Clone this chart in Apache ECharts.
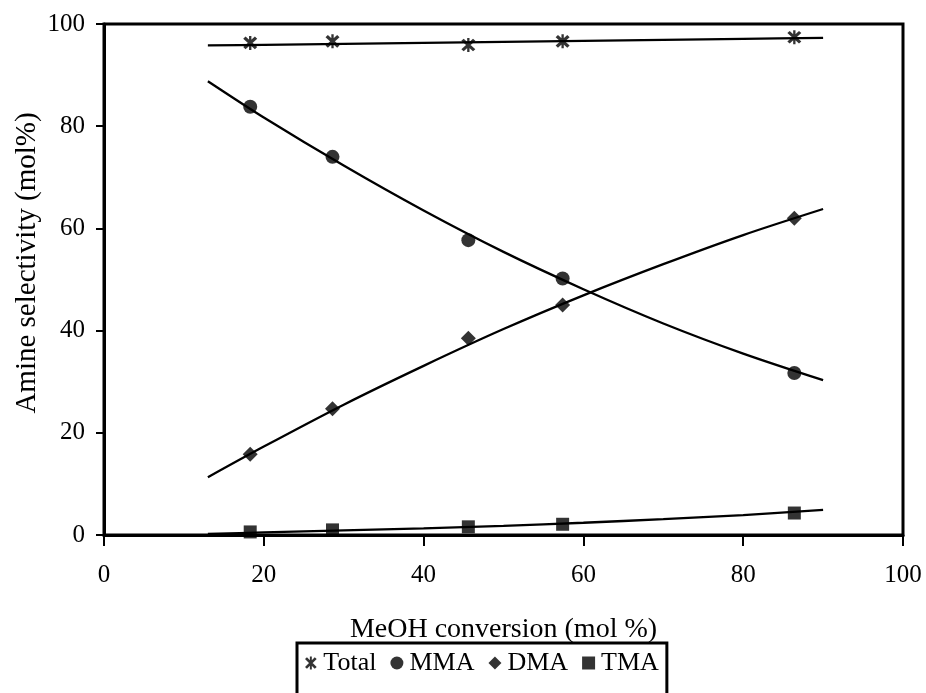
<!DOCTYPE html>
<html>
<head>
<meta charset="utf-8">
<script src="https://cdn.jsdelivr.net/npm/echarts@6/dist/echarts.min.js"></script>
<style>html,body{margin:0;padding:0;background:#fff}#c{width:926px;height:693px}</style>
</head>
<body>
<div id="c"></div>
<script>
// Measured points
const conversion = [18.3, 28.6, 45.6, 57.4, 86.4];
const totalSel = [96.3, 96.6, 95.9, 96.6, 97.4];
const mmaSel = [83.8, 74.0, 57.7, 50.2, 31.7];
const dmaSel = [15.8, 24.7, 38.5, 45.0, 62.0];
const tmaSel = [0.6, 1.0, 1.6, 2.1, 4.3];

// Trend lines
const fitX = [13, 20, 30, 40, 50, 60, 70, 80, 90];
const totalFit = [95.8, 95.9, 96.1, 96.3, 96.5, 96.7, 96.9, 97.1, 97.3];
const mmaFit = [88.8, 81.7, 72.3, 63.5, 55.4, 48.1, 41.4, 35.5, 30.3];
const dmaFit = [11.3, 17.3, 25.5, 33.1, 40.3, 46.9, 53.0, 58.7, 63.8];
const tmaFit = [0.2, 0.5, 0.9, 1.3, 1.8, 2.4, 3.1, 3.9, 4.9];

const xTicks = [0, 20, 40, 60, 80, 100];
const yTicks = [0, 20, 40, 60, 80, 100];

const FONT = 'Liberation Serif';
const starPath = 'path://M8.5,0L11.5,0L11.5,20L8.5,20Z M1,4L4,1L19,16L16,19Z M16,1L19,4L4,19L1,16Z';

const pairs = (xs, ys) => xs.map((x, i) => [x, ys[i]]);

function scatter(name, ys, symbol, size) {
  return {
    name, type: 'scatter', data: pairs(conversion, ys), symbol, symbolSize: size,
    itemStyle: { color: '#000' }, z: 3
  };
}
function fit(name, ys) {
  return {
    name, type: 'line', data: pairs(fitX, ys), smooth: 0.3, showSymbol: false, symbol: 'none',
    lineStyle: { color: '#000', width: 2.3 }, z: 2, silent: true
  };
}

const chart = echarts.init(document.getElementById('c'), null, { renderer: 'canvas' });
chart.setOption({
  animation: false,
  backgroundColor: '#fff',
  grid: { left: 104, right: 23, top: 24, bottom: 158, show: true, borderColor: '#000', borderWidth: 3 },
  xAxis: {
    type: 'value', min: xTicks[0], max: xTicks[xTicks.length - 1], interval: 20,
    name: 'MeOH conversion (mol %)', nameLocation: 'middle', nameGap: 81,
    nameTextStyle: { fontFamily: FONT, fontSize: 28, color: '#000' },
    axisLine: { show: true, lineStyle: { color: '#000', width: 3 } },
    axisTick: { show: true, inside: false, length: 11, lineStyle: { color: '#000', width: 2 } },
    axisLabel: { fontFamily: FONT, fontSize: 25, color: '#000', margin: 28 },
    splitLine: { show: false }
  },
  yAxis: {
    type: 'value', min: yTicks[0], max: yTicks[yTicks.length - 1], interval: 20,
    axisLine: { show: true, lineStyle: { color: '#000', width: 3 } },
    axisTick: { show: true, inside: false, length: 8, lineStyle: { color: '#000', width: 2 } },
    axisLabel: { fontFamily: FONT, fontSize: 25, color: '#000', margin: 19 },
    splitLine: { show: false }
  },
  legend: {
    data: ['Total', 'MMA', 'DMA', 'TMA'],
    left: 297, top: 643,
    orient: 'horizontal',
    itemWidth: 13, itemHeight: 13, itemGap: 14,
    padding: [7, 8, 40, 8],
    borderColor: '#000', borderWidth: 3,
    textStyle: { fontFamily: FONT, fontSize: 26, color: '#000', padding: [0, 0, 0, 1] }
  },
  graphic: [{
    type: 'text', x: 27, y: 263, rotation: Math.PI / 2,
    style: { text: 'Amine selectivity (mol%)', fontFamily: FONT, fontSize: 29, fill: '#000',
             align: 'center', verticalAlign: 'middle' }
  }],
  series: [
    fit('Total fit', totalFit),
    fit('MMA fit', mmaFit),
    fit('DMA fit', dmaFit),
    fit('TMA fit', tmaFit),
    scatter('Total', totalSel, starPath, 14),
    scatter('MMA', mmaSel, 'circle', 14),
    scatter('DMA', dmaSel, 'diamond', 15),
    scatter('TMA', tmaSel, 'rect', 13)
  ]
});
</script>
</body>
</html>
